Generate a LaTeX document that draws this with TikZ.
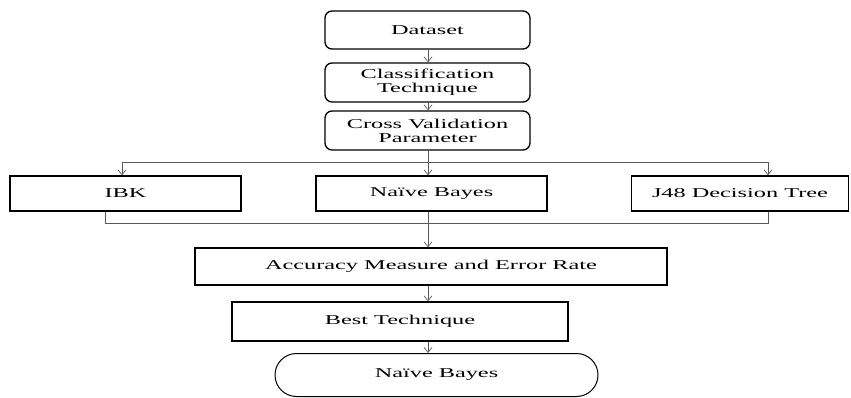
\documentclass[tikz,border=0pt]{standalone}
\usepackage{fontspec}
\setmainfont{Liberation Serif}[FakeStretch=1.8]
\usetikzlibrary{arrows.meta,shapes.misc}
\begin{document}
\begin{tikzpicture}[x=1pt,y=1pt,
  box/.style={draw=black,line width=1.3pt,minimum width=#1,inner sep=0pt,align=center,font=\fontsize{13.5}{14}\selectfont},
  rbox/.style={box=#1,rounded corners=7pt},
  conn/.style={draw=black!65,line width=0.7pt},
  arr/.style={conn,-{Straight Barb[length=5pt,width=8pt]}}]
\useasboundingbox (0,0) rectangle (851,-398);
\node[rbox=205pt,minimum height=38pt] (ds) at (427.5,-30) {Dataset};
\node[rbox=205pt,minimum height=39pt] (ct) at (427.5,-82.5) {Classification\\Technique};
\node[rbox=205pt,minimum height=39pt] (cv) at (427.5,-130.5) {Cross Validation\\Parameter};
\node[box=231pt,minimum height=35pt] (ibk) at (125.5,-193.5) {IBK};
\node[box=231pt,minimum height=35pt] (nb) at (431.5,-193.5) {Naïve Bayes};
\node[box=217pt,minimum height=35pt] (j48) at (740,-193.5) {J48 Decision Tree};
\node[box=472pt,minimum height=37pt] (acc) at (431,-266.5) {Accuracy Measure and Error Rate};
\node[box=336pt,minimum height=39pt] (best) at (400,-321.5) {Best Technique};
\node[box=323pt,minimum height=43pt,rounded rectangle,line width=1pt] (res) at (436.5,-375) {Naïve Bayes};
\coordinate (c) at (428,0);
\draw[arr] (ds.south -| c) -- (ct.north -| c);
\draw[arr] (ct.south -| c) -- (cv.north -| c);
\coordinate (split) at (428,-162);
\coordinate (lft) at (122,-162);
\coordinate (rgt) at (768,-162);
\draw[conn] (cv.south -| c) -- (split);
\draw[conn] (lft) -- (rgt);
\draw[arr] (lft) -- (lft |- ibk.north);
\draw[arr] (split) -- (nb.north -| c);
\draw[arr] (rgt) -- (rgt |- j48.north);
\coordinate (ml) at (105,-223);
\coordinate (mr) at (768,-223);
\draw[conn] (ibk.south -| ml) -- (ml) -- (mr) -- (j48.south -| mr);
\draw[arr] (nb.south -| c) -- (acc.north -| c);
\draw[arr] (acc.south -| c) -- (best.north -| c);
\draw[arr] (best.south -| c) -- (res.north -| c);
\end{tikzpicture}
\end{document}
